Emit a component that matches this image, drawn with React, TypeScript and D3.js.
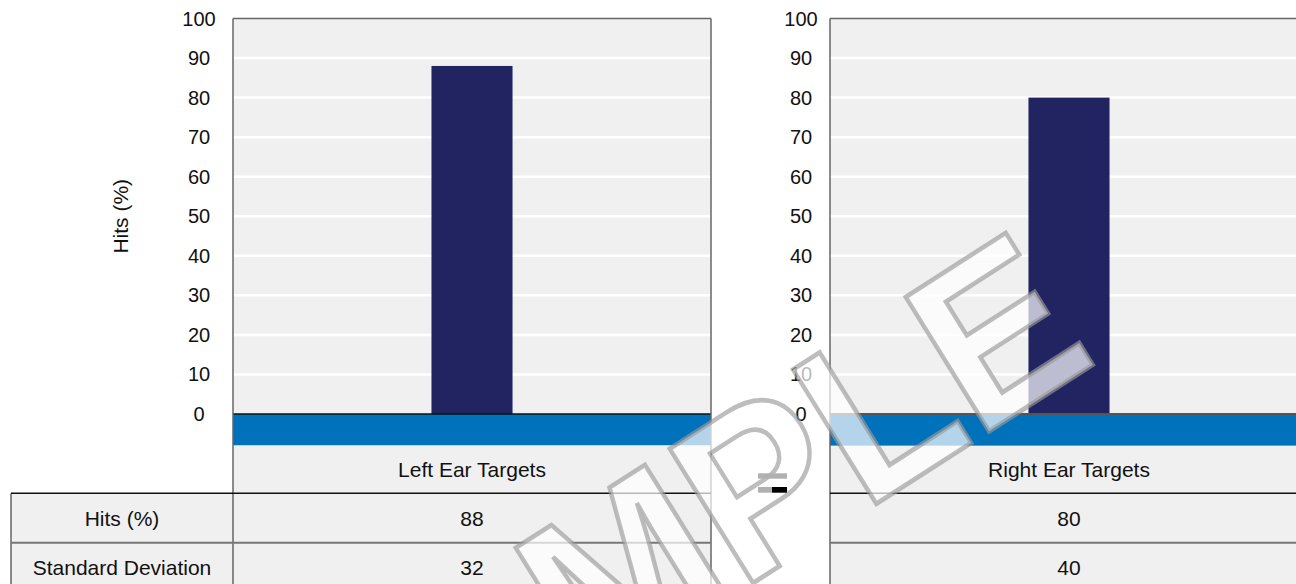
import React from "react";
import * as d3 from "d3";

// ---- data ----
const categories = ["Left Ear Targets", "Right Ear Targets"];
const hits = [88, 80];
const stdDev = [32, 40];
const rowLabels = ["Hits (%)", "Standard Deviation"];
const yTicks = [0, 10, 20, 30, 40, 50, 60, 70, 80, 90, 100];
const yTitle = "Hits (%)";
const watermark = "SAMPLE";

// ---- layout ----
const W = 1296;
const H = 584;
const plotTop = 18.5;
const zeroY = 414;
const bandBottom = 445.5;
const catBottom = 493.3;
const row1Bottom = 542.7;
const row2Bottom = 592;
const labelColX = 11;
const panelW = 478;
const panels = [
  { x0: 233, labelX: 199, zeroStroke: "#111", zeroW: 1.5, bandLine: false },
  { x0: 830, labelX: 801, zeroStroke: "#555", zeroW: 2, bandLine: true },
];
const FONT = "'Liberation Sans', Arial, Helvetica, sans-serif";
const BG = "#f0f0f0";
const BAR = "#212461";
const BLUE = "#0071bb";
const BORDER = "#666";
const FS = 21;

export default function App() {
  const y = d3.scaleLinear().domain([0, 100]).range([zeroY, plotTop]);
  const rows = [hits, stdDev];
  const rowTops = [catBottom, row1Bottom];
  const rowBottoms = [row1Bottom, row2Bottom];

  return (
    <svg
      width={W}
      height={H}
      style={{ position: "absolute", left: 0, top: 0, background: "#fff" }}
      fontFamily={FONT}
    >
      {/* y axis title */}
      <text
        transform={`translate(120,${(plotTop + zeroY) / 2}) rotate(-90)`}
        textAnchor="middle"
        dominantBaseline="central"
        fontSize={FS}
        fill="#111"
      >
        {yTitle}
      </text>

      {/* label column */}
      <rect x={labelColX} y={catBottom} width={panels[0].x0 - labelColX} height={row2Bottom - catBottom} fill={BG} />
      {rowLabels.map((l, i) => (
        <text
          key={l}
          x={(labelColX + panels[0].x0) / 2}
          y={(rowTops[i] + rowBottoms[i]) / 2}
          textAnchor="middle"
          dominantBaseline="central"
          fontSize={FS}
          fill="#111"
        >
          {l}
        </text>
      ))}
      <line x1={labelColX} x2={labelColX} y1={catBottom} y2={row2Bottom} stroke={BORDER} strokeWidth={1.5} />

      {panels.map((p, pi) => {
        const x = d3
          .scaleBand<string>()
          .domain([categories[pi]])
          .range([p.x0, p.x0 + panelW])
          .padding(0.71);
        const xc = p.x0 + panelW / 2;
        return (
          <g key={pi}>
            {/* plot background */}
            <rect x={p.x0} y={plotTop} width={panelW} height={zeroY - plotTop} fill={BG} />
            {yTicks
              .filter((t) => t > 0 && t < 100)
              .map((t) => (
                <line key={t} x1={p.x0} x2={p.x0 + panelW} y1={y(t)} y2={y(t)} stroke="#fff" strokeWidth={2.5} />
              ))}
            {/* bar */}
            <rect
              x={x(categories[pi])}
              y={y(hits[pi])}
              width={x.bandwidth()}
              height={y(0) - y(hits[pi])}
              fill={BAR}
            />
            {/* tick labels */}
            {yTicks.map((t) => (
              <text
                key={t}
                x={p.labelX}
                y={y(t)}
                textAnchor="middle"
                dominantBaseline="central"
                fontSize={20}
                fill="#111"
              >
                {t}
              </text>
            ))}
            {/* blue band */}
            <rect x={p.x0} y={zeroY} width={panelW} height={bandBottom - zeroY} fill={BLUE} />
            <line x1={p.x0} x2={p.x0 + panelW} y1={zeroY} y2={zeroY} stroke={p.zeroStroke} strokeWidth={p.zeroW} />
            {p.bandLine && (
              <line x1={p.x0} x2={p.x0 + panelW} y1={bandBottom} y2={bandBottom} stroke="#333" strokeWidth={1} />
            )}
            {/* category row */}
            <rect x={p.x0} y={bandBottom} width={panelW} height={catBottom - bandBottom} fill={BG} />
            <text x={xc} y={(bandBottom + catBottom) / 2} textAnchor="middle" dominantBaseline="central" fontSize={FS} fill="#111">
              {categories[pi]}
            </text>
            {/* value rows */}
            {rows.map((r, ri) => (
              <g key={ri}>
                <rect x={p.x0} y={rowTops[ri]} width={panelW} height={rowBottoms[ri] - rowTops[ri]} fill={BG} />
                <text
                  x={xc}
                  y={(rowTops[ri] + rowBottoms[ri]) / 2}
                  textAnchor="middle"
                  dominantBaseline="central"
                  fontSize={FS}
                  fill="#111"
                >
                  {r[pi]}
                </text>
              </g>
            ))}
            {/* borders */}
            <line x1={p.x0} x2={p.x0 + panelW} y1={plotTop} y2={plotTop} stroke={BORDER} strokeWidth={1.5} />
            <line x1={p.x0} x2={p.x0} y1={plotTop} y2={row2Bottom} stroke={BORDER} strokeWidth={1.5} />
            <line x1={p.x0 + panelW} x2={p.x0 + panelW} y1={plotTop} y2={row2Bottom} stroke={BORDER} strokeWidth={1.5} />
          </g>
        );
      })}

      {/* row separators */}
      <line x1={labelColX} x2={panels[0].x0 + panelW} y1={catBottom} y2={catBottom} stroke="#111" strokeWidth={1.5} />
      <line x1={panels[1].x0} x2={panels[1].x0 + panelW} y1={catBottom} y2={catBottom} stroke="#111" strokeWidth={1.5} />
      <line x1={labelColX} x2={panels[0].x0 + panelW} y1={row1Bottom} y2={row1Bottom} stroke="#777" strokeWidth={2} />
      <line x1={panels[1].x0} x2={panels[1].x0 + panelW} y1={row1Bottom} y2={row1Bottom} stroke="#777" strokeWidth={2} />

      {/* watermark */}
      <text
        transform="matrix(0.924,-0.594,0.606,0.975,330,855)"
        fontSize={200}
        fontWeight="bold"
        fontFamily={FONT}
        fill="#fff"
        fillOpacity={0.7}
        stroke="#9a9a9a"
        strokeOpacity={0.65}
        strokeWidth={4}
        pointerEvents="none"
      >
        {watermark}
      </text>

      {/* small "=" icon in the gap */}
      <rect x={758} y={473.3} width={29} height={5.4} fill="#b0b0b0" />
      <rect x={758} y={487} width={14} height={5.7} fill="#b0b0b0" />
      <rect x={772} y={487} width={15} height={5.7} fill="#000" />
    </svg>
  );
}
